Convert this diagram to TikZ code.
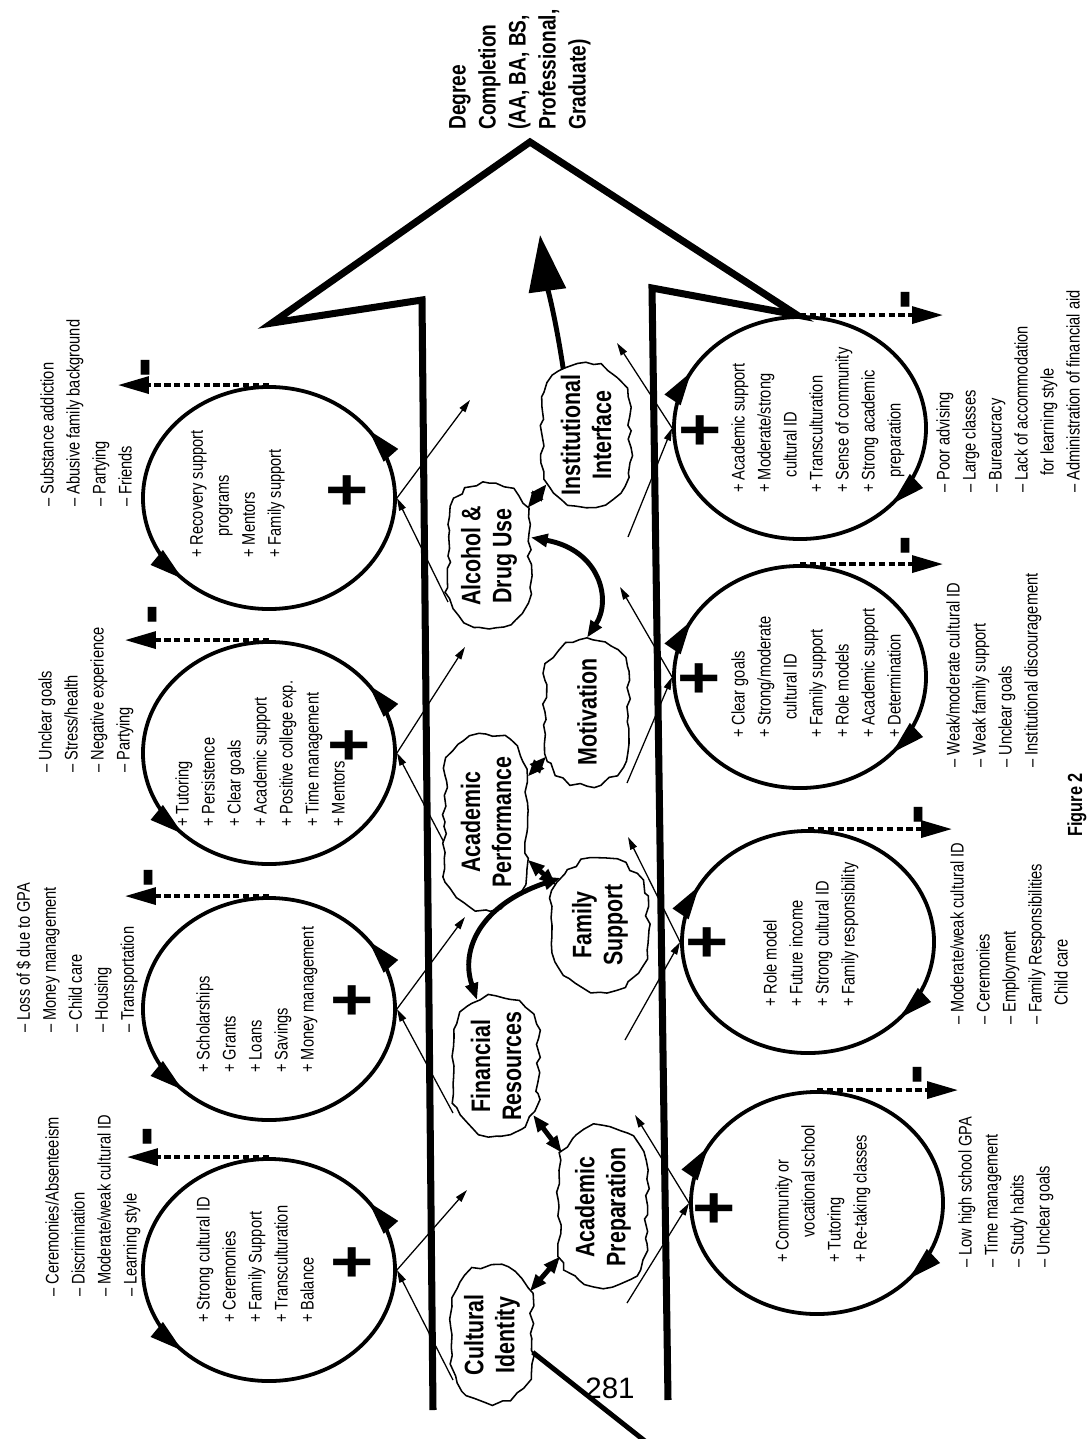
\documentclass[tikz,border=0pt]{standalone}
\usepackage{fontspec}
\setmainfont{Liberation Sans}[FakeStretch=0.8]
\newfontfamily\pagefont{Liberation Sans}
\usetikzlibrary{shapes.geometric,shapes.misc,arrows.meta,decorations.markings,decorations.pathmorphing}

\begin{document}
\pgfmathsetseed{12}
\begin{tikzpicture}[x=0.025cm,y=-0.025cm,
    bigarrow/.style={line width=5pt,miter limit=20},
    loopleft/.style={draw,ellipse,line width=2.7pt,minimum width=6.3cm,minimum height=5.55cm,inner sep=0pt,
      postaction={decorate,decoration={markings,
        mark=at position 0.10 with {\arrow{Triangle[length=24pt,width=13pt]}},
        mark=at position 0.625 with {\arrow{Triangle[length=24pt,width=13pt]}}}}},
    loopright/.style={draw,ellipse,line width=2.7pt,minimum width=6.3cm,minimum height=5.55cm,inner sep=0pt,
      postaction={decorate,decoration={markings,
        mark=at position 0.42 with {\arrowreversed{Triangle[length=24pt,width=13pt]}},
        mark=at position 0.885 with {\arrowreversed{Triangle[length=24pt,width=13pt]}}}}},
    factor/.style={draw,fill=white,line width=1.1pt,rotate=90,rounded rectangle,inner sep=1pt,
      decorate,decoration={random steps,segment length=6pt,amplitude=1.8pt},
      align=center,font=\bfseries\fontsize{19}{22}\selectfont},
    plist/.style={rotate=90,anchor=north west,align=left,inner sep=0pt,font=\fontsize{13}{18.5}\selectfont},
    bigplus/.style={rotate=90,inner sep=0pt,font=\bfseries\fontsize{52}{52}\selectfont},
    negsign/.style={rotate=90,inner sep=0pt,font=\bfseries\fontsize{52}{52}\selectfont},
    negarrow/.style={line width=2.6pt,dash pattern=on 4.5pt off 2.5pt,-{Triangle[length=22pt,width=12pt]}},
    link/.style={line width=3.5pt,{Triangle[length=12pt,width=9pt]}-{Triangle[length=12pt,width=9pt]}},
    feed/.style={line width=0.9pt,-{Triangle[length=9pt,width=5pt]}}]
\useasboundingbox (0,0) rectangle (1087,1439);

% the big arrow
\draw[bigarrow] (433,1410) -- (422,300) -- (272,323) -- (530,142) -- (797,315) -- (652,288) -- (668,1400);
\node[rotate=90,anchor=north west,align=left,inner sep=0pt,font=\bfseries\fontsize{17}{21.3}\selectfont] (degree) at (449,130)
  {Degree\\Completion\\(AA, BA, BS,\\Professional,\\Graduate)};

% loops
\node[loopleft] (c1) at (269,498) {};
\node[loopleft] (c2) at (269,753) {};
\node[loopleft] (c3) at (269,1009) {};
\node[loopleft] (c4) at (269,1270) {};
\node[loopright] (r1) at (800,428) {};
\node[loopright] (r2) at (800,677) {};
\node[loopright] (r3) at (808,942) {};
\node[loopright] (r4) at (817,1203) {};

\node[bigplus] (c1plus) at (350,490) {+};
\node[bigplus] (c2plus) at (352,745) {+};
\node[bigplus] (c3plus) at (355,1000) {+};
\node[bigplus] (c4plus) at (355,1262) {+};
\node[bigplus] (r1plus) at (703,430) {+};
\node[bigplus] (r2plus) at (702,678) {+};
\node[bigplus] (r3plus) at (710,942) {+};
\node[bigplus] (r4plus) at (717,1208) {+};

\coordinate (c1neg) at (118,387);
\coordinate (c2neg) at (125,642);
\coordinate (c3neg) at (125,900);
\coordinate (c4neg) at (127,1160);
\coordinate (r1neg) at (943,318);
\coordinate (r2neg) at (943,565);
\coordinate (r3neg) at (952,832);
\coordinate (r4neg) at (958,1095);
\draw[negarrow] (c1.north) -- (c1.north -| c1neg);
\draw[negarrow] (c2.north) -- (c2.north -| c2neg);
\draw[negarrow] (c3.north) -- (c3.north -| c3neg);
\draw[negarrow] (c4.north) -- (c4.north -| c4neg);
\draw[negarrow] (r1.north) -- (r1.north -| r1neg);
\draw[negarrow] (r2.north) -- (r2.north -| r2neg);
\draw[negarrow] (r3.north) -- (r3.north -| r3neg);
\draw[negarrow] (r4.north) -- (r4.north -| r4neg);
\node[negsign] (c1minus) at (153,368) {-};
\node[negsign] (c2minus) at (160,615) {-};
\node[negsign] (c3minus) at (156,878) {-};
\node[negsign] (c4minus) at (155,1137) {-};
\node[negsign] (r1minus) at (913,300) {-};
\node[negsign] (r2minus) at (913,546) {-};
\node[negsign] (r3minus) at (926,815) {-};
\node[negsign] (r4minus) at (925,1075) {-};

% feedback arrows into and out of the shaft
\coordinate (c1up) at (470,400);   \coordinate (c1dn) at (448,602);
\coordinate (c2up) at (465,647);   \coordinate (c2dn) at (448,850);
\coordinate (c3up) at (465,917);   \coordinate (c3dn) at (453,1113);
\coordinate (c4up) at (467,1190);  \coordinate (c4dn) at (453,1380);
\coordinate (r1up) at (617,343);   \coordinate (r1dn) at (628,537);
\coordinate (r2up) at (620,587);   \coordinate (r2dn) at (627,783);
\coordinate (r3up) at (628,837);   \coordinate (r3dn) at (625,1040);
\coordinate (r4up) at (635,1115);  \coordinate (r4dn) at (627,1303);
\draw[feed] (c1.east) -- (c1up);  \draw[feed] (c1dn) -- (c1.east);
\draw[feed] (c2.east) -- (c2up);  \draw[feed] (c2dn) -- (c2.east);
\draw[feed] (c3.east) -- (c3up);  \draw[feed] (c3dn) -- (c3.east);
\draw[feed] (c4.east) -- (c4up);  \draw[feed] (c4dn) -- (c4.east);
\draw[feed] (r1.west) -- (r1up);  \draw[feed] (r1dn) -- (r1.west);
\draw[feed] (r2.west) -- (r2up);  \draw[feed] (r2dn) -- (r2.west);
\draw[feed] (r3.west) -- (r3up);  \draw[feed] (r3dn) -- (r3.west);
\draw[feed] (r4.west) -- (r4up);  \draw[feed] (r4dn) -- (r4.west);

% factors
\node[factor,minimum width=3.5cm,minimum height=2.0cm] (ci) at (492,1335) {Cultural\\Identity};
\node[factor,minimum width=4.1cm,minimum height=2.2cm] (ap) at (603,1207) {Academic\\Preparation};
\node[factor,minimum width=3.55cm,minimum height=2.1cm] (fr) at (496,1066) {Financial\\Resources};
\node[factor,minimum width=3.4cm,minimum height=2.4cm] (fs) at (600,925) {Family\\Support};
\node[factor,minimum width=4.45cm,minimum height=2.05cm] (pf) at (486,822) {Academic\\Performance};
\node[factor,minimum width=3.75cm,minimum height=2.1cm] (mo) at (587,712) {Motivation};
\node[factor,minimum width=3.7cm,minimum height=2.05cm] (ad) at (489,556) {Alcohol \&\\Drug Use};
\node[factor,minimum width=3.65cm,minimum height=2.2cm] (ii) at (586,435) {Institutional\\Interface};

\coordinate (tipend) at (540,235);
\coordinate (tail) at (650,1445);
\draw[link] (ci) -- (ap);
\draw[link] (fr) -- (ap);
\draw[link] (fr.16) .. controls (460,950) and (480,905) .. (fs.40);
\draw[link] (pf) -- (fs);
\draw[link] (pf) -- (mo);
\draw[link] (ad.-66) .. controls (600,550) and (612,600) .. (mo.east);
\draw[link] (ad) -- (ii);
\draw[line width=3.5pt,-{Triangle[length=40pt,width=26pt]}] (ii.19) .. controls (556,320) and (546,280) .. (tipend);
\draw[line width=3.5pt] (ci.-113) -- (tail);
\node[font=\pagefont\fontsize{21}{21}\selectfont,inner sep=0pt] (pagenum) at (610,1388) {281};

% lists
\node[plist] (c1out) at (40,507) {-- Substance addiction\\-- Abusive family background\\-- Partying\\-- Friends};
\node[plist] (c2out) at (38,773) {-- Unclear goals\\-- Stress/health\\-- Negative experience\\-- Partying};
\node[plist] (c3out) at (16,1033) {-- Loss of \$ due to GPA\\-- Money management\\-- Child care\\-- Housing\\-- Transportation};
\node[plist] (c4out) at (45,1297) {-- Ceremonies/Absenteeism\\-- Discrimination\\-- Moderate/weak cultural ID\\-- Learning style};
\node[plist] (c1in) at (190,558) {+ Recovery support\\\hspace*{15pt}programs\\+ Mentors\\+ Family support};
\node[plist] (c2in) at (175,827) {+ Tutoring\\+ Persistence\\+ Clear goals\\+ Academic support\\+ Positive college exp.\\+ Time management\\+ Mentors};
\node[plist] (c3in) at (196,1073) {+ Scholarships\\+ Grants\\+ Loans\\+ Savings\\+ Money management};
\node[plist] (c4in) at (196,1323) {+ Strong cultural ID\\+ Ceremonies\\+ Family Support\\+ Transculturation\\+ Balance};
\node[plist] (r1in) at (731,493) {+ Academic support\\+ Moderate/strong\\\hspace*{11pt}cultural ID\\+ Transculturation\\+ Sense of community\\+ Strong academic\\\hspace*{11pt}preparation};
\node[plist] (r2in) at (731,738) {+ Clear goals\\+ Strong/moderate\\\hspace*{13pt}cultural ID\\+ Family support\\+ Role models\\+ Academic support\\+ Determination};
\node[plist] (r3in) at (763,1007) {+ Role model\\+ Future income\\+ Strong cultural ID\\+ Family responsibility};
\node[plist] (r4in) at (775,1263) {+ Community or\\\hspace*{18pt}vocational school\\+ Tutoring\\+ Re-taking classes};
\node[plist] (r1out) at (936,493) {-- Poor advising\\-- Large classes\\-- Bureaucracy\\-- Lack of accommodation\\\hspace*{12pt}for learning style\\-- Administration of financial aid};
\node[plist] (r2out) at (946,768) {-- Weak/moderate cultural ID\\-- Weak family support\\-- Unclear goals\\-- Institutional discouragement};
\node[plist] (r3out) at (950,1025) {-- Moderate/weak cultural ID\\-- Ceremonies\\-- Employment\\-- Family Responsibilities\\\hspace*{14pt}Child care};
\node[plist] (r4out) at (958,1268) {-- Low high school GPA\\-- Time management\\-- Study habits\\-- Unclear goals};
\node[rotate=90,anchor=west,inner sep=0pt,font=\bfseries\fontsize{14.5}{15}\selectfont] (figlabel) at (1077,837) {Figure 2};
\end{tikzpicture}
\end{document}
